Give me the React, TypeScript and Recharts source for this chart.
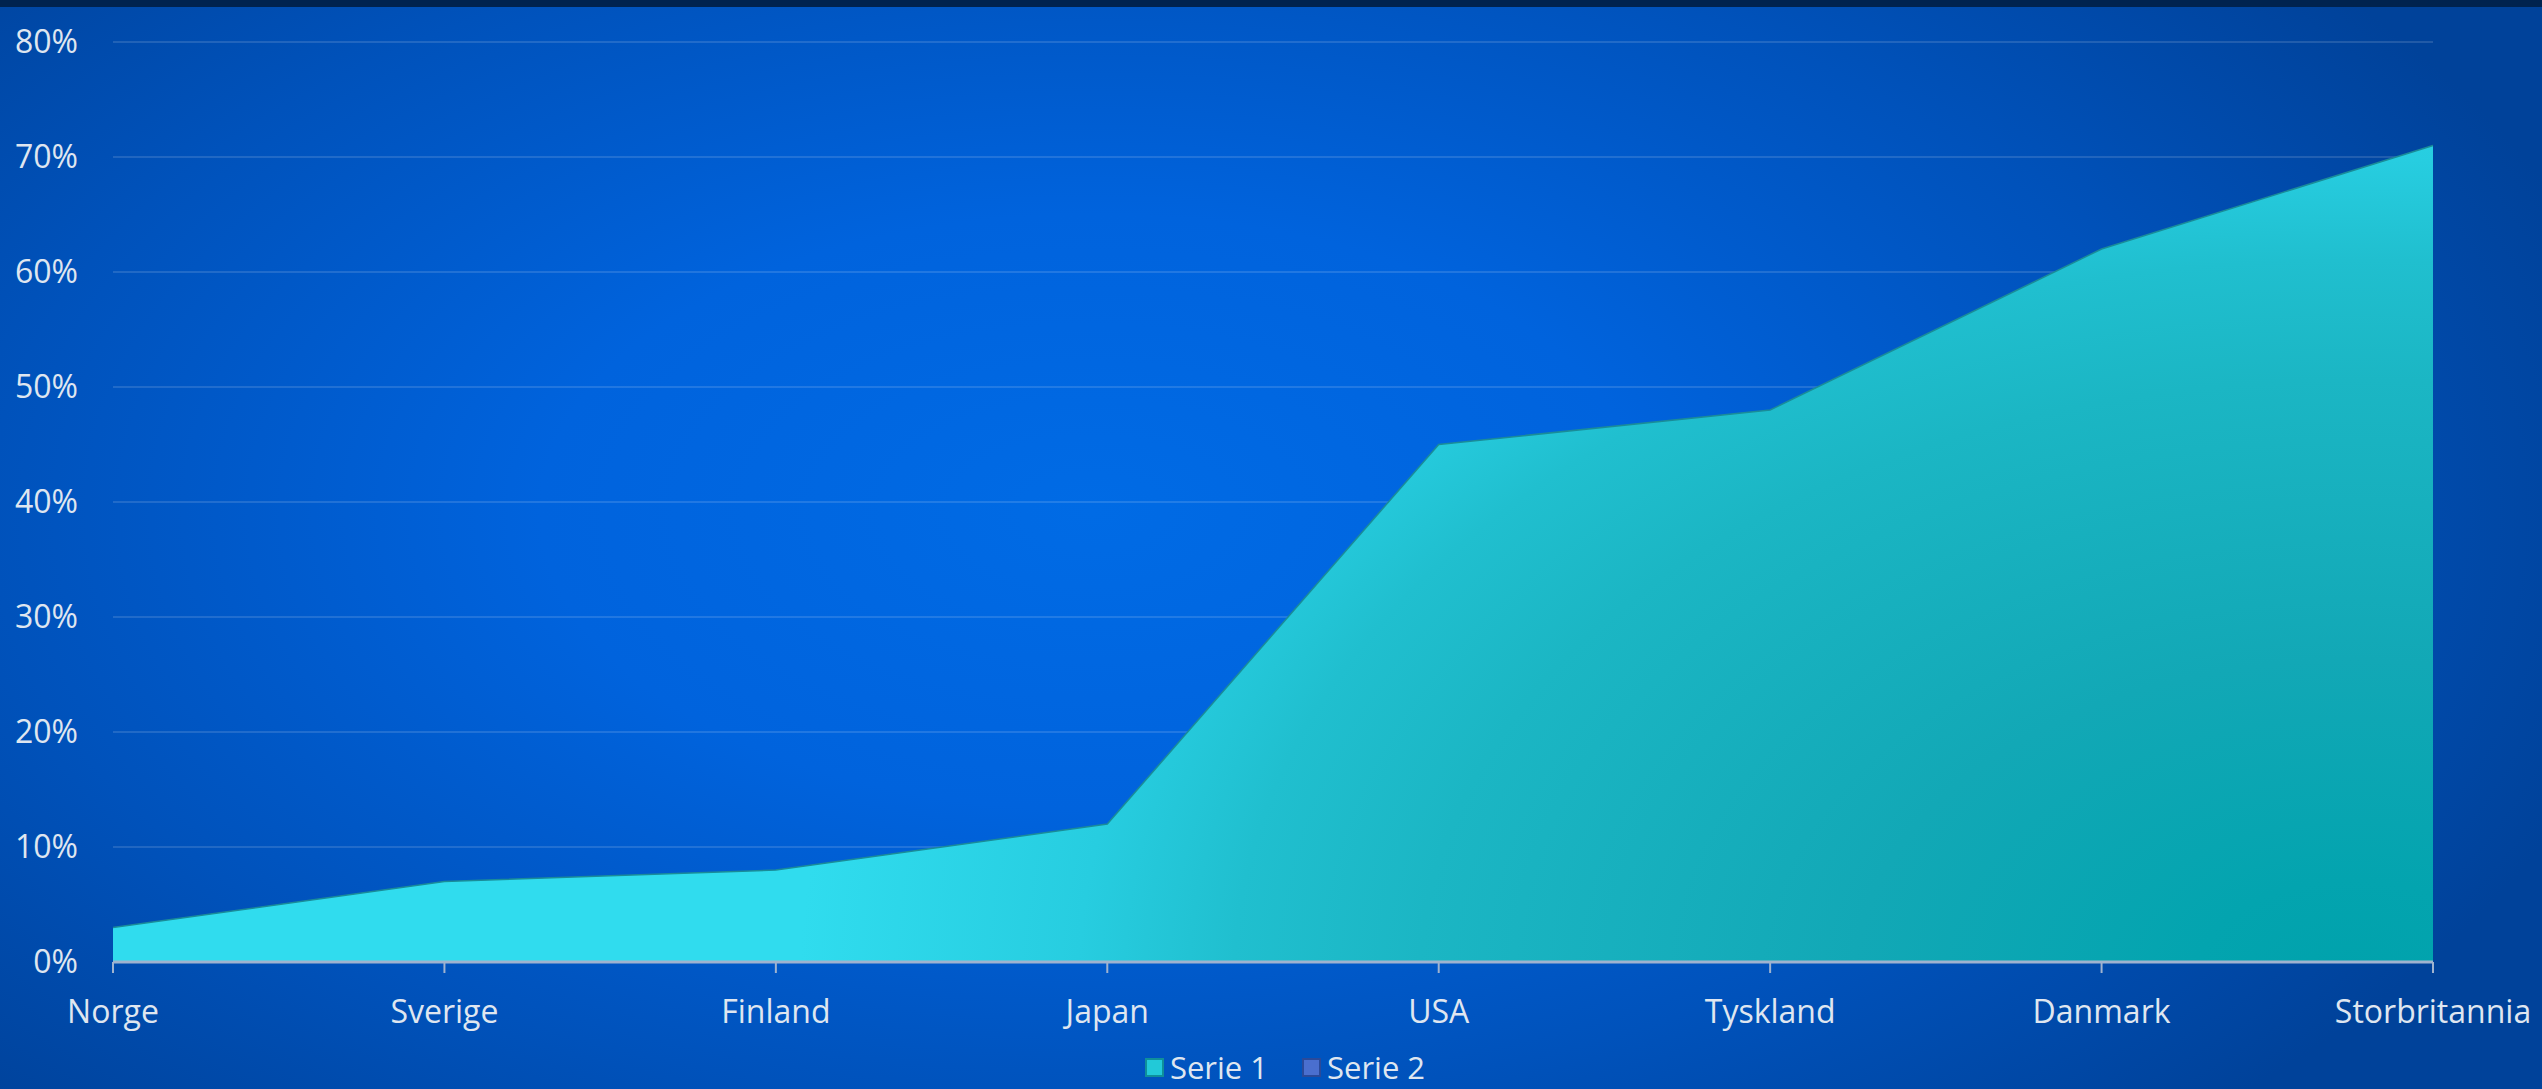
import { AreaChart, Area, XAxis, YAxis, CartesianGrid, Legend } from 'recharts';

const countries = ['Norge', 'Sverige', 'Finland', 'Japan', 'USA', 'Tyskland', 'Danmark', 'Storbritannia'];
const serie1 = [3, 7, 8, 12, 45, 48, 62, 71];
const yTicks = [0, 10, 20, 30, 40, 50, 60, 70, 80];
const legendItems = [
  { name: 'Serie 1', color: '#22c9d8', border: '#0f8f9a' },
  { name: 'Serie 2', color: '#4a6fcf', border: '#2a4a9a' },
];

const data = countries.map((c, i) => ({ name: c, s1: serie1[i] }));

const FONT = '"Open Sans", "Noto Sans", sans-serif';
const TEXT = '#dfe6f0';

function LegendContent() {
  return (
    <div
      style={{
        display: 'flex',
        justifyContent: 'center',
        alignItems: 'center',
        height: 36,
        paddingLeft: 28,
        fontFamily: FONT,
        fontSize: 31,
        color: TEXT,
      }}
    >
      {legendItems.map((it, i) => (
        <div key={it.name} style={{ display: 'flex', alignItems: 'center', marginLeft: i ? 34 : 0 }}>
          <span
            style={{
              width: 15,
              height: 15,
              background: it.color,
              border: `2px solid ${it.border}`,
              marginRight: 6,
              display: 'inline-block',
            }}
          />
          <span style={{ lineHeight: '36px' }}>{it.name}</span>
        </div>
      ))}
    </div>
  );
}

export default function App() {
  return (
    <div
      style={{
        position: 'absolute',
        left: 0,
        top: 0,
        width: 2542,
        height: 1089,
        overflow: 'hidden',
        background: 'radial-gradient(ellipse 62% 78% at 43% 47%, #006be5 0%, #0063dd 35%, #0052bb 70%, #00429a 100%)',
      }}
    >
      <div style={{ position: 'absolute', left: 0, top: 0, width: 2542, height: 7, background: '#00234f' }} />
      <AreaChart width={2542} height={1089} data={data} margin={{ top: 42, right: 109, left: 0, bottom: 0 }}>
        <defs>
          <radialGradient
            id="fill1"
            gradientUnits="userSpaceOnUse"
            cx={2350}
            cy={980}
            r={1000}
            gradientTransform="translate(2350 980) scale(1.55 1) translate(-2350 -980)"
          >
            <stop offset="0%" stopColor="#00a2ac" />
            <stop offset="10%" stopColor="#03a4af" />
            <stop offset="32%" stopColor="#12a8b6" />
            <stop offset="60%" stopColor="#1bb6c4" />
            <stop offset="72%" stopColor="#20bfcf" />
            <stop offset="82%" stopColor="#27cde0" />
            <stop offset="100%" stopColor="#30dcee" />
          </radialGradient>
        </defs>
        <CartesianGrid vertical={false} stroke="rgba(255,255,255,0.13)" strokeWidth={2} />
        <XAxis
          dataKey="name"
          height={91}
          axisLine={{ stroke: '#9fb3cf', strokeWidth: 3 }}
          tickLine={{ stroke: '#9fb3cf', strokeWidth: 2 }}
          tickSize={11}
          tickMargin={27}
          tick={{ fill: TEXT, fontSize: 32, fontFamily: FONT }}
          interval={0}
        />
        <YAxis
          width={113}
          domain={[0, 80]}
          ticks={yTicks}
          axisLine={false}
          tickLine={false}
          tickSize={0}
          tickMargin={35}
          tickFormatter={(v) => `${v}%`}
          tick={{ fill: TEXT, fontSize: 32, fontFamily: FONT }}
        />
        <Legend
          verticalAlign="bottom"
          content={<LegendContent />}
          wrapperStyle={{ left: 0, width: 2542, bottom: 4 }}
        />
        <Area
          type="linear"
          dataKey="s1"
          name="Serie 1"
          stroke="#1a8c98"
          strokeWidth={1.5}
          fill="url(#fill1)"
          fillOpacity={1}
          isAnimationActive={false}
        />
      </AreaChart>
    </div>
  );
}
